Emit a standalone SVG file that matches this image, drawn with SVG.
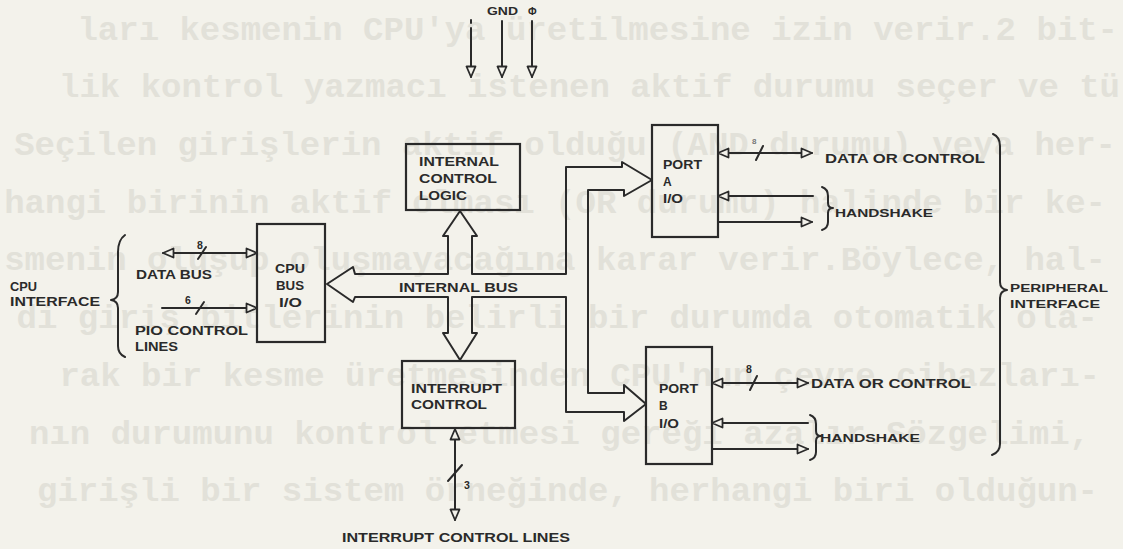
<svg xmlns="http://www.w3.org/2000/svg" width="1123" height="549" viewBox="0 0 1123 549">
  <defs>
    <style>
      .bg { fill: #f3f2eb; }
      .ghost { font-family: "Liberation Mono", "DejaVu Sans Mono", monospace; font-size: 34px; font-weight: bold; fill: #e2e1d9; }
      .ink { fill: none; stroke: #2a2a2a; stroke-width: 2; stroke-linejoin: round; stroke-linecap: round; }
      .box { fill: none; stroke: #2a2a2a; stroke-width: 2.2; }
      .lbl { font-family: "Liberation Sans", Arial, sans-serif; font-weight: bold; font-size: 12px; fill: #2a2a2a; }
      .sm { font-size: 10.5px; }
      .tiny { font-size: 8px; fill: #777; }
    </style>
    <marker id="open-tri" viewBox="0 0 13 12" refX="12" refY="6" markerWidth="13" markerHeight="12" markerUnits="userSpaceOnUse" orient="auto-start-reverse">
      <path d="M1.5,1.5 L12,6 L1.5,10.5 Z" fill="#f3f2eb" stroke="#2a2a2a" stroke-width="1.8" stroke-linejoin="round"/>
    </marker>
  </defs>

  <rect class="bg" x="0" y="0" width="1123" height="549"/>

  <!-- faded text showing through from the page -->
  <g id="page-bleed" class="ghost" text-anchor="end">
    <text x="1118" y="40">ları kesmenin CPU'ya üretilmesine izin verir.2 bit-</text>
    <text x="1120" y="97">lik kontrol yazmacı istenen aktif durumu seçer ve tü</text>
    <text x="1116" y="155">Seçilen girişlerin aktif olduğu (AND durumu) veya her-</text>
    <text x="1106" y="213">hangi birinin aktif olması (OR durumu) halinde bir ke-</text>
    <text x="1106" y="270">smenin oluşup oluşmayacağına karar verir.Böylece, hal-</text>
    <text x="1098" y="328">di giriş bitlerinin belirli bir durumda otomatik ola-</text>
    <text x="1100" y="386">rak bir kesme üretmesinden CPU'nun çevre cihazları-</text>
    <text x="1090" y="444">nın durumunu kontrol etmesi gereği azalır.Sözgelimi,</text>
    <text x="1098" y="501">girişli bir sistem örneğinde, herhangi biri olduğun-</text>
  </g>

  <!-- power pins -->
  <g id="power-pins">
    <line class="ink" x1="471" y1="20" x2="471" y2="23"/>
    <line class="ink" x1="471" y1="28" x2="471" y2="77" marker-end="url(#open-tri)"/>
    <line class="ink" x1="502" y1="21" x2="502" y2="77" marker-end="url(#open-tri)"/>
    <line class="ink" x1="532" y1="21" x2="532" y2="77" marker-end="url(#open-tri)"/>
    <text class="lbl sm" x="487" y="15" textLength="31" lengthAdjust="spacingAndGlyphs">GND</text>
    <text class="lbl sm" x="528" y="15">Φ</text>
  </g>

  <!-- connectors -->
  <g id="connectors">
    <!-- internal bus outline -->
    <path class="ink" d="M448,274 L355,274 L353,267 L327,284 L353,302 L355,297 L448,297 L448,333 L443,333 L460,360 L477,333 L472,333 L472,297 L566,297 L566,412 L624,412 L624,421 L646,404 L624,385 L624,393 L588,393 L588,190 L624,190 L624,196 L652,180 L622,162 L622,167 L566,167 L566,274 L472,274 L472,236 L477,236 L460,211 L443,236 L448,236 Z"/>
    <!-- CPU side -->
    <line class="ink" x1="163" y1="253" x2="257" y2="253" marker-start="url(#open-tri)" marker-end="url(#open-tri)"/>
    <line class="ink" x1="198" y1="259" x2="206" y2="247"/>
    <line class="ink" x1="162" y1="308" x2="257" y2="308" marker-end="url(#open-tri)"/>
    <line class="ink" x1="196" y1="314" x2="204" y2="302"/>
    <!-- port A -->
    <line class="ink" x1="718" y1="153" x2="812" y2="153" marker-start="url(#open-tri)" marker-end="url(#open-tri)"/>
    <line class="ink" x1="756" y1="160" x2="763" y2="146"/>
    <line class="ink" x1="718" y1="196" x2="813" y2="196" marker-start="url(#open-tri)"/>
    <line class="ink" x1="718" y1="222" x2="812" y2="222" marker-end="url(#open-tri)"/>
    <!-- port B -->
    <line class="ink" x1="712" y1="383" x2="808" y2="383" marker-start="url(#open-tri)" marker-end="url(#open-tri)"/>
    <line class="ink" x1="750" y1="390" x2="757" y2="376"/>
    <line class="ink" x1="712" y1="423" x2="808" y2="423" marker-start="url(#open-tri)"/>
    <line class="ink" x1="712" y1="449" x2="808" y2="449" marker-end="url(#open-tri)"/>
    <!-- interrupt lines -->
    <line class="ink" x1="455" y1="429" x2="455" y2="520" marker-start="url(#open-tri)" marker-end="url(#open-tri)"/>
    <line class="ink" x1="448" y1="481" x2="462" y2="465"/>
    <!-- braces -->
    <path class="ink" d="M125,235 Q118,240 118,252 L118,292 Q118,299 111,300 Q118,301 118,308 L118,346 Q118,354 125,357"/>
    <path class="ink" d="M822,187 Q828,189 828,196 L828,203 Q828,208 833,208 Q828,208 828,213 L828,222 Q828,228 822,230"/>
    <path class="ink" d="M810,415 Q816,417 816,424 L816,431 Q816,436 821,436 Q816,436 816,441 L816,452 Q816,458 810,460"/>
    <path class="ink" d="M993,134 Q1000,137 1000,146 L1000,282 Q1000,289 1007,290 Q1000,291 1000,298 L1000,444 Q1000,452 992,455"/>
  </g>

  <g id="cpu-interface">
    <text class="lbl" x="10" y="291" textLength="27" lengthAdjust="spacingAndGlyphs">CPU</text>
    <text class="lbl" x="10" y="306" textLength="90" lengthAdjust="spacingAndGlyphs">INTERFACE</text>
    <text class="lbl sm" x="197" y="249">8</text>
    <text class="lbl" x="136" y="279" textLength="76" lengthAdjust="spacingAndGlyphs">DATA BUS</text>
    <text class="lbl sm" x="185" y="304">6</text>
    <text class="lbl" x="135" y="335" textLength="113" lengthAdjust="spacingAndGlyphs">PIO CONTROL</text>
    <text class="lbl" x="135" y="351" textLength="43" lengthAdjust="spacingAndGlyphs">LINES</text>
  </g>

  <g id="cpu-bus-io">
    <rect class="box" x="257" y="224" width="68" height="118"/>
    <text class="lbl" x="275" y="273" textLength="30" lengthAdjust="spacingAndGlyphs">CPU</text>
    <text class="lbl" x="276" y="290" textLength="28" lengthAdjust="spacingAndGlyphs">BUS</text>
    <text class="lbl" x="279" y="307" textLength="23" lengthAdjust="spacingAndGlyphs">I/O</text>
  </g>

  <g id="internal-bus-label">
    <text class="lbl" x="399" y="292" textLength="119" lengthAdjust="spacingAndGlyphs">INTERNAL BUS</text>
  </g>

  <g id="internal-control-logic">
    <rect class="box" x="406" y="144" width="114" height="66"/>
    <text class="lbl" x="419" y="166" textLength="80" lengthAdjust="spacingAndGlyphs">INTERNAL</text>
    <text class="lbl" x="419" y="183" textLength="78" lengthAdjust="spacingAndGlyphs">CONTROL</text>
    <text class="lbl" x="419" y="200" textLength="48" lengthAdjust="spacingAndGlyphs">LOGIC</text>
  </g>

  <g id="interrupt-control">
    <rect class="box" x="402" y="361" width="113" height="67"/>
    <text class="lbl" x="411" y="393" textLength="91" lengthAdjust="spacingAndGlyphs">INTERRUPT</text>
    <text class="lbl" x="411" y="409" textLength="76" lengthAdjust="spacingAndGlyphs">CONTROL</text>
    <text class="lbl sm" x="464" y="489">3</text>
    <text class="lbl" x="342" y="542" textLength="228" lengthAdjust="spacingAndGlyphs">INTERRUPT CONTROL LINES</text>
  </g>

  <g id="port-a">
    <rect class="box" x="652" y="125" width="66" height="112"/>
    <text class="lbl" x="663" y="169" textLength="39" lengthAdjust="spacingAndGlyphs">PORT</text>
    <text class="lbl" x="663" y="186">A</text>
    <text class="lbl" x="663" y="203" textLength="20" lengthAdjust="spacingAndGlyphs">I/O</text>
    <text class="lbl tiny" x="752" y="144">8</text>
    <text class="lbl" x="825" y="163" textLength="160" lengthAdjust="spacingAndGlyphs">DATA OR CONTROL</text>
    <text class="lbl sm" x="835" y="217" textLength="98" lengthAdjust="spacingAndGlyphs">HANDSHAKE</text>
  </g>

  <g id="port-b">
    <rect class="box" x="646" y="347" width="66" height="117"/>
    <text class="lbl" x="659" y="393" textLength="39" lengthAdjust="spacingAndGlyphs">PORT</text>
    <text class="lbl" x="659" y="410">B</text>
    <text class="lbl" x="659" y="428" textLength="20" lengthAdjust="spacingAndGlyphs">I/O</text>
    <text class="lbl sm" x="746" y="373">8</text>
    <text class="lbl" x="811" y="388" textLength="160" lengthAdjust="spacingAndGlyphs">DATA OR CONTROL</text>
    <text class="lbl sm" x="820" y="442" textLength="100" lengthAdjust="spacingAndGlyphs">HANDSHAKE</text>
  </g>

  <g id="peripheral-interface">
    <text class="lbl sm" x="1010" y="292" textLength="98" lengthAdjust="spacingAndGlyphs">PERIPHERAL</text>
    <text class="lbl sm" x="1010" y="308" textLength="90" lengthAdjust="spacingAndGlyphs">INTERFACE</text>
  </g>
</svg>
